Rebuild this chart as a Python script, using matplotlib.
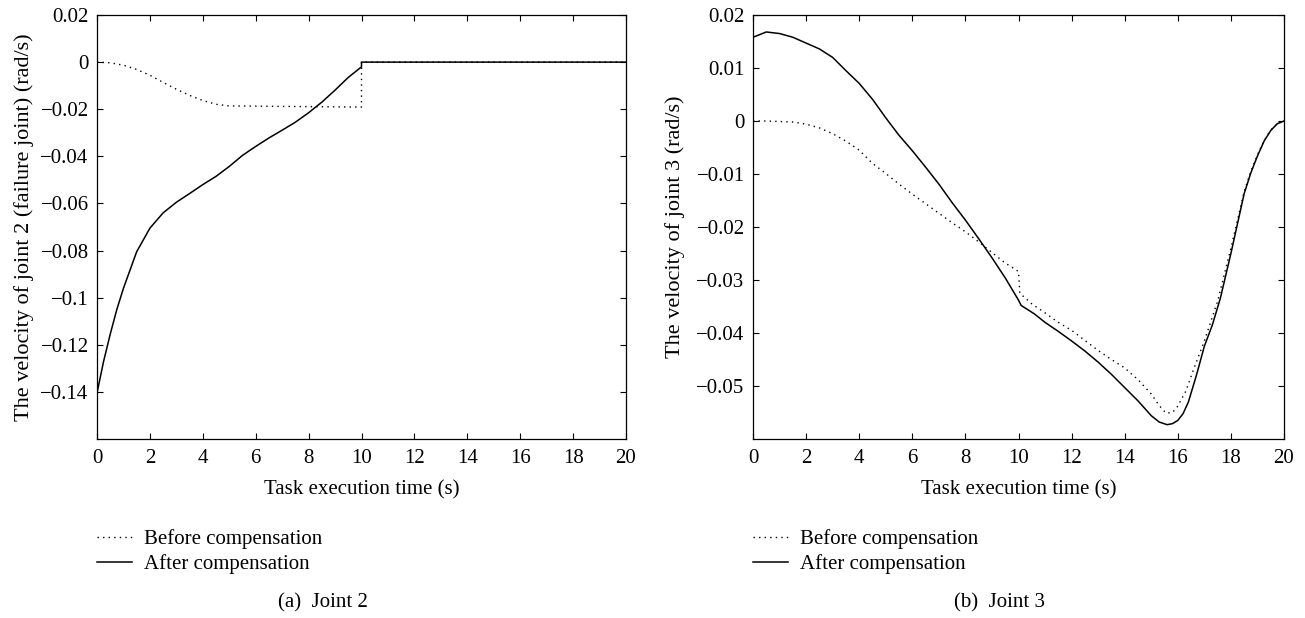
import matplotlib
matplotlib.use("Agg")
import matplotlib.pyplot as plt

# ---- data: joint 2 ----
t_a_before = [0, 0.5, 1.0, 1.5, 2.0, 2.5, 3.0, 3.5, 4.0, 4.5, 5.0, 6.0, 7.0, 8.0, 9.0, 10.0, 10.0, 20.0]
v_a_before = [0, -0.0003, -0.0013, -0.0031, -0.0056, -0.0086, -0.0115, -0.0141, -0.0163, -0.0179,
              -0.0186, -0.0187, -0.0188, -0.0189, -0.0190, -0.0191, 0.0, 0.0]

t_a_after = [0, 0.25, 0.5, 0.75, 1.0, 1.5, 2.0, 2.5, 3.0, 3.5, 4.0, 4.5, 5.0, 5.5, 6.0, 6.5,
             7.0, 7.5, 8.0, 8.5, 9.0, 9.5, 10.0, 10.0, 20.0]
v_a_after = [-0.1405, -0.1270, -0.1155, -0.1050, -0.0960, -0.0805, -0.0705, -0.0640, -0.0595,
             -0.0558, -0.0520, -0.0485, -0.0443, -0.0396, -0.0358, -0.0322, -0.0289, -0.0255,
             -0.0215, -0.0170, -0.0119, -0.0065, -0.0020, 0.0, 0.0]

# ---- data: joint 3 ----
t_b_before = [0, 0.5, 1.0, 1.5, 2.0, 2.5, 3.0, 3.5, 4.0, 4.5, 5.0, 5.5, 6.0, 6.5, 7.0, 7.5, 8.0,
              8.5, 9.0, 9.5, 10.0, 10.05, 10.5, 11.0, 11.5, 12.0, 12.5, 13.0, 13.5, 14.0, 14.5,
              15.0, 15.3, 15.55, 15.8, 16.0, 16.3, 16.6, 17.0, 17.5, 18.0, 18.5, 18.75, 19.0,
              19.25, 19.5, 19.75, 20.0]
v_b_before = [0, 0, -0.0001, -0.0002, -0.0006, -0.0013, -0.0024, -0.0038, -0.0055, -0.0080,
              -0.0099, -0.0119, -0.0138, -0.0156, -0.0174, -0.0192, -0.0209, -0.0228, -0.0248,
              -0.0268, -0.0284, -0.0325, -0.0345, -0.0362, -0.0380, -0.0395, -0.0414, -0.0433,
              -0.0450, -0.0466, -0.0488, -0.0515, -0.0537, -0.0551, -0.0550, -0.0538, -0.0510,
              -0.0468, -0.0415, -0.0340, -0.0240, -0.0133, -0.0095, -0.0064, -0.0037, -0.0017,
              -0.0005, 0.0]

t_b_after = [0, 0.5, 1.0, 1.5, 2.0, 2.5, 3.0, 3.5, 4.0, 4.5, 5.0, 5.5, 6.0, 6.5, 7.0, 7.5, 8.0,
             8.5, 9.0, 9.5, 10.0, 10.1, 10.6, 11.0, 11.5, 12.0, 12.5, 13.0, 13.5, 14.0, 14.5,
             15.0, 15.3, 15.6, 15.8, 16.0, 16.2, 16.4, 16.7, 17.0, 17.3, 17.6, 18.0, 18.5,
             18.75, 19.0, 19.25, 19.5, 19.75, 20.0]
v_b_after = [0.0158, 0.0168, 0.0165, 0.0158, 0.0147, 0.0136, 0.0120, 0.0095, 0.0071, 0.0041,
             0.0006, -0.0027, -0.0056, -0.0087, -0.0119, -0.0154, -0.0187, -0.0222, -0.0258,
             -0.0296, -0.0338, -0.0348, -0.0364, -0.0380, -0.0397, -0.0415, -0.0434, -0.0455,
             -0.0478, -0.0503, -0.0528, -0.0556, -0.0568, -0.0573, -0.0571, -0.0565, -0.0552,
             -0.0530, -0.0480, -0.0425, -0.0385, -0.0335, -0.0250, -0.0137, -0.0098, -0.0066,
             -0.0038, -0.0018, -0.0005, 0.0]

x_ticks = [0, 2, 4, 6, 8, 10, 12, 14, 16, 18, 20]
a_yticks = [0.02, 0, -0.02, -0.04, -0.06, -0.08, -0.1, -0.12, -0.14]
a_ylabels = ["0.02", "0", "\u22120.02", "\u22120.04", "\u22120.06", "\u22120.08", "\u22120.1",
             "\u22120.12", "\u22120.14"]
b_yticks = [0.02, 0.01, 0, -0.01, -0.02, -0.03, -0.04, -0.05]
b_ylabels = ["0.02", "0.01", "0", "\u22120.01", "\u22120.02", "\u22120.03", "\u22120.04", "\u22120.05"]

label_before = "Before compensation"
label_after = "After compensation"
xlabel = "Task execution time (s)"
ylabel_a = "The velocity of joint 2 (failure joint) (rad/s)"
ylabel_b = "The velocity of joint 3 (rad/s)"
caption_a = "(a)  Joint 2"
caption_b = "(b)  Joint 3"

plt.rcParams['font.family'] = ['Liberation Serif', 'DejaVu Serif']
FS = 15

W, H = 1305, 618
fig = plt.figure(figsize=(W / 100, H / 100), dpi=100)

def fx(px):
    return px / W

def fy(py):
    return 1 - py / H

ax_a = fig.add_axes([fx(97), fy(439), fx(626) - fx(97), fy(15) - fy(439)])
ax_b = fig.add_axes([fx(753), fy(439), fx(1284) - fx(753), fy(15) - fy(439)])

dot_style = (0, (1, 3))

for ax, tb, vb, ta, va, ylim, yt, yl, ylab, ylx, cap, capx in [
    (ax_a, t_a_before, v_a_before, t_a_after, v_a_after, (-0.16, 0.02), a_yticks, a_ylabels,
     ylabel_a, -0.138, caption_a, 323),
    (ax_b, t_b_before, v_b_before, t_b_after, v_b_after, (-0.06, 0.02), b_yticks, b_ylabels,
     ylabel_b, -0.147, caption_b, 1000),
]:
    ax.plot(tb, vb, color='black', lw=1.0, linestyle=dot_style, label=label_before)
    ax.plot(ta, va, color='black', lw=1.1, linestyle='-', label=label_after)
    ax.set_xlim(0, 20)
    ax.set_ylim(*ylim)
    ax.set_xticks(x_ticks)
    ax.set_xticklabels([str(v) for v in x_ticks])
    ax.set_yticks(yt)
    ax.set_yticklabels(yl)
    ax.tick_params(direction='in', top=True, right=True, length=4.5, width=0.8, pad=6,
                   labelsize=FS, color='black')
    ax.tick_params(axis='x', pad=7.5)
    for s in ax.spines.values():
        s.set_linewidth(0.9)
    ax.set_xlabel(xlabel, fontsize=FS)
    ax.xaxis.set_label_coords(0.5, -(480 - 439) / 424)
    ax.xaxis.label.set_verticalalignment('top')
    ax.set_ylabel(ylab, fontsize=16)
    ax.yaxis.set_label_coords(ylx, 0.5)
    ax.yaxis.label.set_verticalalignment('center')
    bb = ax.get_position()
    ax.legend(loc='upper left', bbox_to_anchor=(bb.x0, fy(529)), bbox_transform=fig.transFigure,
              frameon=False, borderpad=0, borderaxespad=0, handlelength=1.7, handletextpad=0.55,
              labelspacing=0.27, fontsize=FS)
    fig.text(fx(capx), fy(603), cap, ha='center', va='center', fontsize=FS)

fig.savefig("out.png", dpi=100)
